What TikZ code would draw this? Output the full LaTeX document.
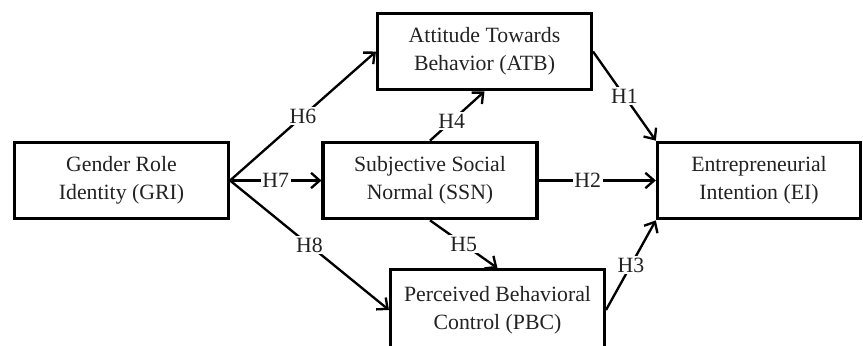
\documentclass[tikz,border=0pt]{standalone}
\usepackage{fontspec}
\setmainfont{Liberation Serif}
\definecolor{Textcol}{HTML}{222222}
\usetikzlibrary{arrows.meta, positioning}
\tikzset{
    >={Straight Barb[length=2.6mm,width=4.6mm]},
    box/.style={draw, line width=2.6pt, minimum width=6.42cm, minimum height=2.3cm,
        align=center, text=Textcol, font=\fontsize{18.6}{23.5}\selectfont, inner sep=2pt},
    link/.style={->, line width=2pt},
    hyp/.style={fill=white, text=Textcol, inner sep=1.5pt, font=\fontsize{18.6}{20}\selectfont}
}

\begin{document}
\begin{tikzpicture}
    \useasboundingbox (0,0) rectangle (25.89,10.35);

    % Constructs
    \node[box] (GRI) at (3.645,4.935) {Gender Role\\Identity (GRI)};
    \node[box] (SSN) at (12.9,4.935) {Subjective Social\\Normal (SSN)};
    \node[box] (ATB) at (14.535,8.805) {Attitude Towards\\Behavior (ATB)};
    \node[box, minimum height=2.42cm] (PBC) at (14.925,1.05) {Perceived Behavioral\\Control (PBC)};
    \node[box, minimum width=6.1cm] (EI) at (22.77,4.935) {Entrepreneurial\\Intention (EI)};

    % Hypotheses
    \draw[link] (GRI.east) -- node[hyp] {H6} (ATB.west);
    \draw[link] (GRI.east) -- node[hyp] {H7} (SSN.west);
    \draw[link] (GRI.east) -- node[hyp] {H8} (PBC.west);
    \draw[link] (SSN.north) -- node[hyp, pos=0.4] {H4} (ATB.south);
    \draw[link] (SSN.south) -- node[hyp] {H5} (PBC.north);
    \draw[link] (ATB.east) -- node[hyp] {H1} (EI.north west);
    \draw[link] (SSN.east) -- node[hyp, pos=0.42] {H2} (EI.west);
    \draw[link] (PBC.east) -- node[hyp] {H3} (EI.south west);
\end{tikzpicture}
\end{document}
